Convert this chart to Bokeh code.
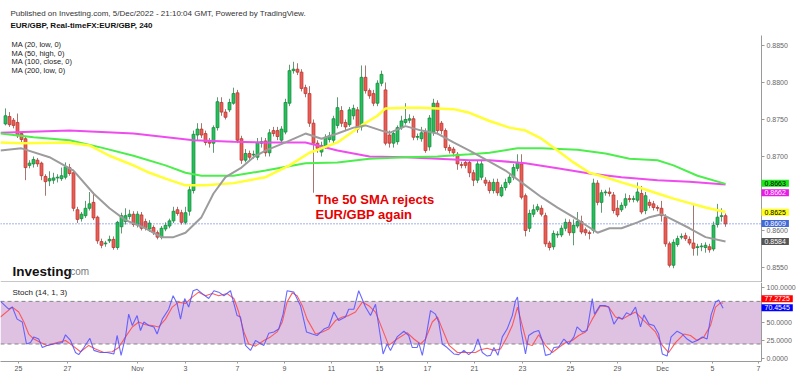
from bokeh.plotting import figure
from bokeh.layouts import column
from bokeh.models import (Range1d, FixedTicker, PrintfTickFormatter, Label, BoxAnnotation, LinearAxis)
from bokeh.embed import file_html
from bokeh.resources import INLINE

FONT = "Liberation Sans"

# ---------------- data (4h candles, EUR/GBP) ----------------
opens = [
.8744,.8754,.8749,.8746,.8731,.8724,.8688,.8690,.8695,.8691,
.8673,.8667,.8668,.8671,.8670,.8672,.8685,.8678,.8628,.8616,
.8620,.8630,.8638,.8618,.8585,.8582,.8586,.8588,.8577,.8605,
.8612,.8619,.8622,.8608,.8621,.8612,.8602,.8604,.8597,.8591,
.8602,.8606,.8613,.8628,.8624,.8611,.8626,.8654,.8729,.8737,
.8731,.8720,.8718,.8739,.8773,.8760,.8763,.8772,.8786,.8724,
.8695,.8704,.8702,.8699,.8718,.8721,.8705,.8735,.8735,.8722,
.8733,.8772,.8816,.8818,.8814,.8793,.8785,.8745,.8718,.8706,
.8714,.8723,.8722,.8742,.8762,.8746,.8743,.8755,.8763,.8740,
.8807,.8789,.8785,.8772,.8799,.8790,.8729,.8718,.8720,.8739,
.8746,.8749,.8751,.8726,.8724,.8733,.8713,.8733,.8772,.8745,
.8735,.8712,.8710,.8703,.8689,.8692,.8692,.8678,.8668,.8672,
.8668,.8665,.8654,.8665,.8647,.8658,.8665,.8672,.8684,.8690,
.8647,.8603,.8622,.8628,.8630,.8620,.8583,.8578,.8594,.8594,
.8603,.8611,.8597,.8606,.8612,.8601,.8597,.8600,.8664,.8638,
.8651,.8652,.8648,.8630,.8628,.8634,.8643,.8642,.8641,.8650,
.8627,.8638,.8636,.8631,.8630,.8618,.8582,.8553,.8581,.8591,
.8593,.8588,.8583,.8577,.8578,.8577,.8578,.8575,.8608,.8619,
.8620]
highs = [
.8765,.8760,.8752,.8758,.8733,.8727,.8695,.8700,.8698,.8693,
.8676,.8680,.8678,.8676,.8685,.8692,.8690,.8682,.8632,.8625,
.8640,.8652,.8652,.8620,.8589,.8586,.8593,.8592,.8613,.8624,
.8630,.8628,.8626,.8626,.8625,.8616,.8614,.8607,.8600,.8606,
.8611,.8616,.8632,.8632,.8628,.8632,.8660,.8735,.8745,.8745,
.8735,.8725,.8742,.8780,.8780,.8764,.8778,.8793,.8790,.8728,
.8710,.8708,.8708,.8725,.8726,.8725,.8737,.8740,.8740,.8741,
.8778,.8824,.8828,.8826,.8818,.8797,.8795,.8750,.8722,.8720,
.8730,.8733,.8755,.8780,.8768,.8750,.8767,.8770,.8767,.8823,
.8823,.8792,.8790,.8803,.8816,.8800,.8735,.8735,.8742,.8755,
.8772,.8757,.8755,.8731,.8740,.8738,.8756,.8778,.8776,.8748,
.8738,.8716,.8713,.8706,.8693,.8696,.8695,.8682,.8695,.8694,
.8672,.8668,.8670,.8670,.8662,.8670,.8676,.8690,.8703,.8703,
.8650,.8628,.8635,.8636,.8634,.8624,.8586,.8600,.8599,.8607,
.8616,.8615,.8615,.8625,.8620,.8604,.8600,.8670,.8668,.8655,
.8655,.8658,.8652,.8641,.8638,.8650,.8648,.8647,.8665,.8660,
.8652,.8642,.8640,.8634,.8640,.8622,.8585,.8588,.8593,.8596,
.8597,.8592,.8634,.8582,.8583,.8584,.8582,.8612,.8636,.8630,
.8623]
lows = [
.8742,.8740,.8738,.8725,.8718,.8668,.8684,.8685,.8686,.8668,
.8647,.8660,.8663,.8665,.8667,.8669,.8674,.8626,.8610,.8612,
.8617,.8627,.8614,.8582,.8576,.8578,.8583,.8574,.8574,.8596,
.8608,.8615,.8605,.8604,.8600,.8600,.8598,.8594,.8588,.8588,
.8599,.8603,.8610,.8620,.8608,.8608,.8620,.8650,.8722,.8725,
.8715,.8712,.8705,.8735,.8755,.8750,.8760,.8770,.8718,.8690,
.8692,.8694,.8697,.8695,.8712,.8700,.8700,.8727,.8722,.8718,
.8730,.8768,.8812,.8810,.8788,.8780,.8740,.8651,.8705,.8700,
.8710,.8719,.8718,.8738,.8740,.8735,.8740,.8750,.8732,.8735,
.8785,.8778,.8768,.8768,.8795,.8715,.8712,.8712,.8716,.8736,
.8743,.8745,.8722,.8722,.8720,.8705,.8708,.8728,.8730,.8730,
.8708,.8704,.8700,.8682,.8684,.8684,.8672,.8660,.8664,.8668,
.8660,.8650,.8650,.8647,.8645,.8654,.8662,.8668,.8680,.8642,
.8592,.8598,.8618,.8625,.8619,.8578,.8573,.8574,.8590,.8591,
.8599,.8593,.8580,.8603,.8595,.8593,.8588,.8596,.8634,.8624,
.8647,.8646,.8623,.8618,.8625,.8630,.8638,.8638,.8638,.8622,
.8622,.8630,.8627,.8626,.8612,.8578,.8550,.8549,.8578,.8588,
.8586,.8580,.8566,.8566,.8572,.8570,.8570,.8572,.8604,.8612,
.8605]
closes = [
.8755,.8743,.8742,.8728,.8723,.8685,.8691,.8696,.8690,.8674,
.8666,.8670,.8671,.8672,.8674,.8686,.8677,.8630,.8615,.8622,
.8630,.8636,.8617,.8586,.8580,.8583,.8588,.8577,.8611,.8620,
.8620,.8622,.8608,.8622,.8603,.8604,.8610,.8597,.8591,.8603,
.8607,.8613,.8626,.8623,.8611,.8624,.8655,.8730,.8737,.8729,
.8719,.8718,.8739,.8774,.8760,.8753,.8773,.8785,.8722,.8695,
.8704,.8699,.8703,.8719,.8720,.8705,.8732,.8731,.8727,.8737,
.8773,.8816,.8818,.8814,.8792,.8785,.8745,.8718,.8711,.8715,
.8726,.8728,.8751,.8766,.8745,.8740,.8763,.8765,.8737,.8807,
.8789,.8782,.8772,.8799,.8811,.8718,.8718,.8731,.8739,.8748,
.8750,.8751,.8726,.8727,.8732,.8708,.8752,.8772,.8735,.8735,
.8712,.8708,.8705,.8690,.8688,.8688,.8678,.8668,.8690,.8690,
.8664,.8654,.8665,.8651,.8658,.8665,.8672,.8685,.8692,.8645,
.8600,.8623,.8628,.8632,.8622,.8582,.8577,.8596,.8595,.8603,
.8611,.8597,.8607,.8612,.8598,.8597,.8596,.8664,.8638,.8651,
.8652,.8650,.8627,.8621,.8634,.8643,.8642,.8643,.8652,.8625,
.8647,.8634,.8631,.8630,.8620,.8582,.8553,.8584,.8589,.8592,
.8589,.8583,.8576,.8578,.8579,.8580,.8574,.8607,.8618,.8620,
.8609]

# moving averages (candle index, value)
ma20_x = [-1.25, 4, 11, 17, 22, 26, 30, 35, 39, 42, 45, 49, 52, 55, 59, 62, 65, 70, 75, 79, 83, 87, 90, 94, 96,
          100, 104, 108, 112, 116, 121, 125, 130, 134, 138, 142, 146, 148, 151, 154, 158, 161, 164, 167, 171, 175, 180]
ma20_y = [.8708, .8711, .8699, .8681, .8650, .8630, .8614, .8603, .8591, .8591, .8597, .8618, .8650, .8672, .8685,
          .8699, .8708, .8719, .8731, .8724, .8731, .8739, .8742, .8735, .8732, .8741, .8735, .8731, .8719, .8708,
          .8693, .8681, .8661, .8645, .8631, .8618, .8604, .8597, .8603, .8603, .8611, .8618, .8622, .8614, .8603,
          .8591, .8585]
ma50_x = [-1.25, 4, 15.5, 21, 26, 32, 36, 40, 45, 50, 57, 65, 71, 76, 83, 89, 93, 95, 100, 104, 108, 112, 116,
          121, 126, 130, 134, 138, 142, 146, 150, 154, 159, 163, 167, 171, 175, 180]
ma50_y = [.8719, .8718, .8719, .8715, .8701, .8688, .8678, .8670, .8661, .8661, .8664, .8672, .8688, .8705, .8719,
          .8742, .8755, .8765, .8766, .8766, .8765, .8764, .8759, .8748, .8739, .8735, .8724, .8708, .8692, .8678,
          .8672, .8665, .8657, .8650, .8643, .8637, .8631, .8625]
ma100_x = [-1.25, 7, 16, 24, 32, 40, 45, 49, 57, 65, 75, 83, 91, 100, 108, 116, 121, 128, 134, 143, 150, 156,
           163, 167, 173, 180]
ma100_y = [.8731, .8726, .8722, .8712, .8701, .8688, .8678, .8674, .8674, .8681, .8691, .8692, .8697, .8699, .8700,
           .8703, .8705, .8711, .8711, .8709, .8704, .8697, .8695, .8688, .8674, .8663]
ma200_x = [-1.25, 16, 32, 47, 57, 65, 75, 83, 91, 100, 108, 116, 121, 130, 138, 146, 154, 163, 171, 180]
ma200_y = [.8732, .8735, .8731, .8722, .8720, .8719, .8719, .8708, .8700, .8699, .8697, .8695, .8695, .8691,
           .8684, .8677, .8672, .8668, .8666, .8662]

# stochastic (14,1,3): %K (blue) and %D (red), (candle index, value)
stoch_k = [(-1.25, 80), (0.8, 69), (1.7, 72), (2.9, 55), (4.2, 51), (5.25, 20), (6.25, 22), (7.1, 30), (8.3, 27),
           (9.2, 15), (10.4, 18), (12.1, 20), (14.2, 22), (15.0, 33), (16.25, 25), (17.5, 8), (18.3, 5), (19.6, 15),
           (21.1, 28), (22.1, 11), (23.75, 8), (25.4, 8), (27.1, 6), (27.9, 32), (28.9, 4), (30.0, 30), (30.8, 62),
           (31.7, 46), (32.9, 60), (33.75, 39), (34.6, 51), (35.8, 46), (37.1, 44), (37.9, 34), (39.2, 55),
           (40.8, 69), (41.9, 88), (42.9, 77), (43.75, 55), (44.8, 84), (45.8, 72), (46.9, 95), (47.9, 97),
           (49.2, 91), (50.8, 84), (52.1, 95), (53.3, 93), (54.6, 88), (56.25, 95), (57.9, 60), (58.75, 58),
           (60.0, 18), (61.25, 11), (62.5, 25), (64.6, 18), (65.8, 35), (67.1, 37), (68.3, 41), (69.4, 62),
           (70.4, 95), (72.1, 93), (73.75, 74), (75.25, 37), (76.7, 34), (77.9, 32), (79.6, 41), (80.8, 44),
           (82.1, 65), (83.3, 53), (85.0, 58), (85.8, 69), (87.1, 69), (88.3, 95), (90.0, 72), (91.25, 60),
           (92.5, 76), (93.3, 46), (94.4, 6), (95.4, 20), (96.25, 11), (97.9, 30), (99.6, 38), (100.8, 32),
           (101.7, 15), (102.9, 15), (103.3, 22), (104.2, 4), (105.25, 34), (106.25, 67), (107.5, 62), (108.3, 51),
           (109.2, 20), (110.4, 15), (112.1, 6), (113.3, 5), (114.6, 11), (115.8, 5), (117.1, 11), (118.1, 27),
           (119.2, 8), (120.4, 3), (121.25, 4), (122.1, 15), (123.1, 4), (124.2, 30), (125.4, 41), (126.7, 60),
           (127.5, 81), (128.0, 86), (128.9, 39), (130.0, 6), (130.8, 32), (132.1, 37), (133.3, 39), (134.2, 25),
           (135.0, 4), (136.25, 6), (137.1, 15), (138.3, 16), (139.6, 27), (140.8, 20), (142.1, 30), (142.9, 44),
           (144.2, 37), (145.4, 39), (146.7, 84), (147.25, 62), (148.6, 74), (150.0, 74), (150.8, 72), (152.1, 48),
           (153.3, 58), (154.2, 55), (155.25, 64), (156.25, 61), (157.5, 72), (158.75, 44), (159.6, 61),
           (160.9, 48), (162.1, 46), (163.3, 34), (164.2, 6), (165.4, 3), (166.4, 30), (167.9, 38), (169.2, 34),
           (170.4, 27), (171.7, 22), (172.9, 25), (174.2, 30), (175.4, 27), (176.4, 61), (177.5, 79), (178.3, 82),
           (179.4, 70.4545)]
stoch_d = [(-1.25, 58), (1.7, 72), (3.3, 65), (4.6, 51), (5.8, 34), (7.1, 27), (8.75, 22), (10.4, 18), (12.9, 22),
           (15.0, 25), (16.7, 18), (18.75, 9), (20.8, 18), (22.5, 13), (24.6, 8), (26.7, 9), (28.3, 15), (30.0, 30),
           (31.7, 44), (33.3, 51), (35.0, 47), (36.7, 46), (38.3, 44), (40.0, 55), (41.7, 72), (43.3, 79),
           (45.0, 77), (46.7, 86), (48.3, 93), (50.0, 88), (51.7, 91), (53.3, 88), (55.4, 91), (57.1, 84),
           (58.3, 65), (59.6, 37), (60.8, 20), (62.5, 17), (64.6, 25), (66.25, 30), (67.9, 37), (69.2, 51),
           (70.4, 79), (71.7, 92), (72.9, 88), (74.2, 74), (75.4, 55), (77.5, 34), (79.2, 37), (80.8, 41),
           (82.5, 53), (84.2, 58), (85.8, 60), (87.5, 65), (89.2, 79), (90.8, 74), (92.5, 65), (94.2, 41),
           (95.8, 18), (97.9, 27), (100.4, 36), (102.1, 27), (103.75, 20), (105.0, 27), (106.7, 51), (108.0, 58),
           (109.2, 41), (110.9, 18), (113.0, 8), (115.5, 8), (117.5, 8), (118.75, 12), (120.4, 14), (122.1, 11),
           (123.75, 13), (125.4, 30), (126.7, 46), (128.0, 72), (129.2, 46), (130.4, 20), (131.7, 18), (133.3, 33),
           (135.0, 18), (136.7, 8), (138.3, 15), (140.0, 22), (141.7, 25), (143.3, 32), (145.0, 37), (146.7, 55),
           (148.75, 74), (150.8, 72), (152.5, 58), (154.2, 55), (155.8, 60), (157.5, 65), (159.2, 55), (160.9, 46),
           (162.5, 37), (164.2, 18), (165.8, 8), (167.5, 22), (169.6, 34), (171.25, 32), (172.9, 25), (174.6, 30),
           (176.25, 46), (177.5, 72), (178.75, 78), (179.4, 77.2725)]

price_ticks = [0.855, 0.860, 0.865, 0.870, 0.875, 0.880, 0.885]
stoch_ticks = [0, 25, 50, 100]
date_tick_pos = [3.25, 15.5, 33, 45, 58, 69.75, 81.5, 93.5, 105.5, 117.25, 129.25, 141.25, 153, 164.25, 176.75, 188.25]
date_tick_labels = ["25", "27", "Nov", "3", "7", "9", "11", "15", "17", "21", "23", "25", "29", "Dec", "5", "7"]

last_labels = [  # text, box colour, text colour, y position of box
    ("0.8663", "#1be61b", "#000000", 0.86640),
    ("0.8662", "#e61be6", "#ffffff", 0.86510),
    ("0.8625", "#ffff1a", "#000000", 0.86247),
    ("0.8609", "#4169d8", "#ffffff", 0.86095),
    ("0.8584", "#555555", "#ffffff", 0.85851),
]
stoch_last = [("77.2725", "#ff0000", 83.6), ("70.4545", "#0000ff", 71.0)]

# ---------------- layout constants ----------------
MAIN_H = 282
STO_H = 94
STO_FRAME_BOTTOM = 79      # frame bottom inside the stochastic canvas
AXIS_X = 189               # candle-index position of the price scale
X_START, X_END = -1.25, 198.75
PRICE_LO, PRICE_HI_AXIS, PRICE_HI = 0.85297, 0.88635, 0.891081

x_range = Range1d(X_START, X_END)


def style_axis(ax, size="7px", color="#666666"):
    ax.axis_line_color = "#9a9a9a"
    ax.major_tick_line_color = "#9a9a9a"
    ax.major_tick_in = 0
    ax.minor_tick_line_color = None
    ax.major_label_text_font = FONT
    ax.major_label_text_font_size = size
    ax.major_label_text_color = color


p = figure(width=800, height=MAIN_H, x_range=x_range, y_range=Range1d(PRICE_LO, PRICE_HI),
           output_backend="svg", toolbar_location=None, x_axis_location=None, y_axis_location=None,
           min_border=0)
p.outline_line_color = None
p.grid.visible = False

ya = LinearAxis(fixed_location=AXIS_X, bounds=(PRICE_LO, PRICE_HI_AXIS),
                ticker=FixedTicker(ticks=price_ticks), formatter=PrintfTickFormatter(format="%.4f"))
style_axis(ya)
ya.major_tick_out = 3
ya.major_label_standoff = 2
p.add_layout(ya, "right")

# candles
idx = list(range(len(closes)))
up_i = [i for i in idx if closes[i] >= opens[i]]
dn_i = [i for i in idx if closes[i] < opens[i]]

p.segment(x0=up_i, x1=up_i, y0=[lows[i] for i in up_i], y1=[highs[i] for i in up_i],
          line_color="#5f9a72", line_width=1)
p.segment(x0=dn_i, x1=dn_i, y0=[lows[i] for i in dn_i], y1=[highs[i] for i in dn_i],
          line_color="#a87670", line_width=1)
p.vbar(x=up_i, width=0.72, top=[closes[i] for i in up_i], bottom=[opens[i] for i in up_i],
       fill_color="#21c25a", line_color="#178a3e", line_width=0.8)
p.vbar(x=dn_i, width=0.72, top=[opens[i] for i in dn_i], bottom=[closes[i] for i in dn_i],
       fill_color="#ef5b52", line_color="#b63a33", line_width=0.8)

# current price dotted line
p.segment(x0=[X_START], x1=[AXIS_X], y0=[closes[-1]], y1=[closes[-1]],
          line_color="#3f63d6", line_dash="1 2", line_width=1)

# moving averages
p.line(ma200_x, ma200_y, line_color="#ee4cee", line_width=2)
p.line(ma100_x, ma100_y, line_color="#4cee4c", line_width=2)
p.line(ma50_x, ma50_y, line_color="#ffff33", line_width=2.5)
p.line(ma20_x, ma20_y, line_color="#9c9c9c", line_width=2)

# pane separator
p.segment(x0=[X_START], x1=[AXIS_X], y0=[0.853041], y1=[0.853041], line_color="#b4b4b4", line_width=1.5)


def txt(fig, frame_bottom, text, x, cy, size, color, bold=False, baseline="middle"):
    fig.add_layout(Label(x=x, y=frame_bottom - cy, x_units="screen", y_units="screen", text=text,
                         text_font=FONT, text_font_size=size, text_color=color,
                         text_font_style="bold" if bold else "normal", text_baseline=baseline,
                         text_align="left"))


txt(p, MAIN_H, "Published on Investing.com, 5/Dec/2022 - 21:10:04 GMT, Powered by TradingView.",
    10, 12.5, "8px", "#333333")
txt(p, MAIN_H, "EUR/GBP, Real-timeFX:EUR/GBP, 240", 10, 25, "8px", "#111111", bold=True)
for k, t in enumerate(["MA (20, low, 0)", "MA (50, high, 0)", "MA (100, close, 0)", "MA (200, low, 0)"]):
    txt(p, MAIN_H, t, 11, 44 + 8.6 * k, "7.5px", "#222222")
txt(p, MAIN_H, "The 50 SMA rejects", 315, 199, "13px", "#e60000", bold=True)
txt(p, MAIN_H, "EUR/GBP again", 315, 214, "13px", "#e60000", bold=True)
txt(p, MAIN_H, "Investing", 12, 271, "13.5px", "#111111", bold=True, baseline="alphabetic")
txt(p, MAIN_H, ".com", 67, 271, "10px", "#777777", baseline="alphabetic")

for t, bg, fg, yv in last_labels:
    p.add_layout(Label(x=AXIS_X, y=yv, x_units="data", y_units="data", text=t, text_font=FONT,
                       text_font_size="7px", text_color=fg, text_baseline="middle", text_align="left",
                       background_fill_color=bg, padding=(3, 1)))

# ---------------- stochastic pane ----------------
s = figure(width=800, height=STO_H, x_range=x_range, y_range=Range1d(-4.65, 106.6),
           output_backend="svg", toolbar_location=None, y_axis_location=None, x_axis_location="below",
           min_border_left=0, min_border_right=0, min_border_top=0, min_border_bottom=15)
s.outline_line_color = None
s.grid.visible = False
s.add_layout(BoxAnnotation(left=X_START, right=AXIS_X, bottom=20, top=80, fill_color="#dfc1e2", fill_alpha=1,
                           line_color=None, level="underlay"))
for lvl in (80, 20):
    s.segment(x0=[X_START], x1=[AXIS_X], y0=[lvl], y1=[lvl], line_color="#858585", line_dash="4 3", line_width=1)
s.line([a for a, b in stoch_d], [b for a, b in stoch_d], line_color="#ff4d4d", line_width=1.1, line_alpha=0.9)
s.line([a for a, b in stoch_k], [b for a, b in stoch_k], line_color="#5050ff", line_width=1.1, line_alpha=0.85)

sy = LinearAxis(fixed_location=AXIS_X, ticker=FixedTicker(ticks=stoch_ticks),
                formatter=PrintfTickFormatter(format="%.4f"))
style_axis(sy)
sy.major_tick_out = 3
sy.major_label_standoff = 2
s.add_layout(sy, "right")

xa = s.xaxis[0]
style_axis(xa, color="#555555")
xa.bounds = (X_START, AXIS_X)
xa.ticker = FixedTicker(ticks=date_tick_pos)
xa.major_label_overrides = {float(k): v for k, v in zip(date_tick_pos, date_tick_labels)}
xa.major_tick_out = 2
xa.major_label_standoff = 1

txt(s, STO_FRAME_BOTTOM, "Stoch (14, 1, 3)", 12, 10, "8px", "#222222")
for t, bg, yv in stoch_last:
    s.add_layout(Label(x=AXIS_X, y=yv, x_units="data", y_units="data", text=t, text_font=FONT,
                       text_font_size="7px", text_color="#ffffff", text_baseline="middle", text_align="left",
                       background_fill_color=bg, padding=(3, 1)))

layout = column(p, s, spacing=0)
open("out.html", "w").write(file_html(layout, INLINE))
